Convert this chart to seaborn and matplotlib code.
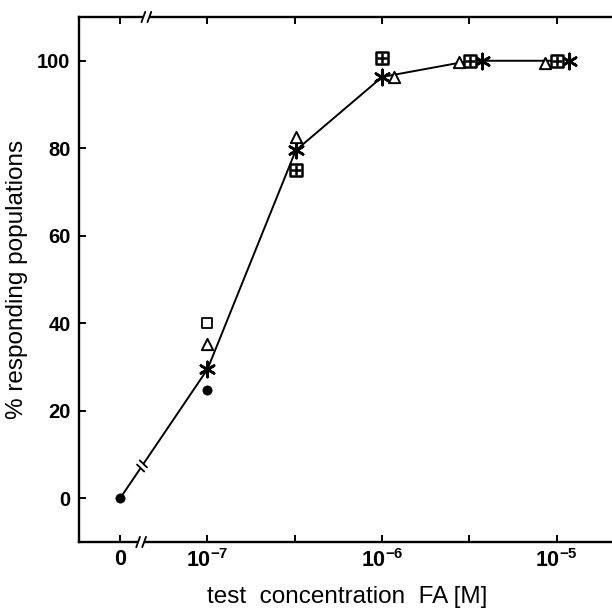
import numpy as np
import pandas as pd
import matplotlib
matplotlib.use("Agg")
import matplotlib.pyplot as plt
import seaborn as sns


# concentrations of FA [M]; 0 is the control
CONC = [0, 1e-7, 3.2e-7, 1e-6, 3.2e-6, 1e-5]

# % responding populations, read per symbol
MEAN_VALUES = [0, 29.5, 79.5, 96.3, 100, 100]          # asterisks, joined by the line
CIRCLE_CONC = [0, 1e-7]
CIRCLE_VALUES = [0, 24.7]
SQUARE_CONC = [1e-7]
SQUARE_VALUES = [40]
TRIANGLE_CONC = [1e-7, 3.2e-7, 1e-6, 3.2e-6, 1e-5]
TRIANGLE_VALUES = [35.2, 82.5, 96.3, 99.8, 99.6]
BOXED_CONC = [3.2e-7, 1e-6, 3.2e-6, 1e-5]
BOXED_VALUES = [75, 100.7, 100, 100]

X_TICK_CONC = [0, 1e-7, 10 ** -6.5, 1e-6, 10 ** -5.5, 1e-5]
X_TICK_LABELS = ["0", "$10^{-7}$", "", "$10^{-6}$", "", "$10^{-5}$"]
Y_TICKS = [0, 20, 40, 60, 80, 100]

ZERO_POS = -7.5


def to_pos(c):
    c = np.asarray(c, dtype=float)
    safe = np.where(c > 0, c, 1.0)
    return np.where(c > 0, np.log10(safe), ZERO_POS)


# small sideways nudges (decades) so touching symbols stay readable
NUDGE = 0.068
TRIANGLE_NUDGE = [0, 0, NUDGE, -NUDGE, -NUDGE]
ASTERISK_NUDGE = [0, 0, 0, 0, NUDGE, NUDGE]


def break_marks(ax, x, y, angle, spine_angle, length=11, gap=6, erase=True, in_axes_y=False):
    # draw a "//" break in display pixels around a point
    trans = ax.get_xaxis_transform() if in_axes_y else ax.transData
    px, py = trans.transform((x, y))
    inv = trans.inverted()
    d = np.array([np.cos(np.radians(spine_angle)), np.sin(np.radians(spine_angle))])
    s = np.array([np.cos(np.radians(angle)), np.sin(np.radians(angle))])
    p = np.array([px, py])
    if erase:
        a, b = inv.transform(p - d * gap * 0.55), inv.transform(p + d * gap * 0.55)
        ax.plot([a[0], b[0]], [a[1], b[1]], transform=trans, color="white",
                lw=4, clip_on=False, zorder=5, solid_capstyle="butt")
    for off in (-gap / 2, gap / 2):
        c = p + d * off
        a, b = inv.transform(c - s * length / 2), inv.transform(c + s * length / 2)
        ax.plot([a[0], b[0]], [a[1], b[1]], transform=trans, color="black",
                lw=1.3, clip_on=False, zorder=6)


def make_plot():
    sns.set_style("ticks")
    plt.rcParams["font.family"] = ["Liberation Sans", "DejaVu Sans"]
    plt.rcParams["mathtext.fontset"] = "custom"
    plt.rcParams["mathtext.rm"] = "Liberation Sans"
    plt.rcParams["mathtext.bf"] = "Liberation Sans:bold"
    plt.rcParams["mathtext.default"] = "bf"
    for key in ["text.color", "axes.labelcolor", "xtick.color", "ytick.color", "axes.edgecolor"]:
        plt.rcParams[key] = "black"

    fig = plt.figure(figsize=(6.12, 6.12), dpi=100)
    ax = fig.add_axes([0.129, 0.1144, 0.875, 0.8578])

    line = pd.DataFrame({"pos": to_pos(CONC), "value": MEAN_VALUES})
    sns.lineplot(data=line, x="pos", y="value", color="black", lw=1.4, ax=ax, zorder=2)

    stars = pd.DataFrame({"pos": to_pos(CONC) + np.array(ASTERISK_NUDGE), "value": MEAN_VALUES})
    stars = stars[stars["pos"] > ZERO_POS + 0.1]
    circles = pd.DataFrame({"pos": to_pos(CIRCLE_CONC), "value": CIRCLE_VALUES})
    squares = pd.DataFrame({"pos": to_pos(SQUARE_CONC), "value": SQUARE_VALUES})
    triangles = pd.DataFrame({"pos": to_pos(TRIANGLE_CONC) + np.array(TRIANGLE_NUDGE),
                              "value": TRIANGLE_VALUES})
    boxed = pd.DataFrame({"pos": to_pos(BOXED_CONC), "value": BOXED_VALUES})

    sns.scatterplot(data=stars, x="pos", y="value", marker=(6, 2, 0), s=120,
                    color="black", linewidth=1.9, ax=ax, zorder=4)
    sns.scatterplot(data=circles, x="pos", y="value", marker="o", s=44,
                    color="black", edgecolor="black", ax=ax, zorder=4)
    sns.scatterplot(data=squares, x="pos", y="value", marker="s", s=62,
                    facecolor="white", edgecolor="black", linewidth=1.3, ax=ax, zorder=4)
    sns.scatterplot(data=triangles, x="pos", y="value", marker="^", s=66,
                    facecolor="white", edgecolor="black", linewidth=1.4, ax=ax, zorder=4)
    sns.scatterplot(data=boxed, x="pos", y="value", marker="s", s=66,
                    facecolor="white", edgecolor="black", linewidth=1.8, ax=ax, zorder=4)
    sns.scatterplot(data=boxed, x="pos", y="value", marker="+", s=44,
                    color="black", linewidth=1.8, ax=ax, zorder=5)

    ax.set_xlim(-7.736, -4.67)
    ax.set_ylim(-10, 110)
    ax.set_xticks(to_pos(X_TICK_CONC))
    ax.set_xticklabels(X_TICK_LABELS)
    ax.set_yticks(Y_TICKS)

    for side in ["left", "bottom", "top"]:
        ax.spines[side].set_linewidth(1.7)
    ax.spines["right"].set_visible(False)

    ax.tick_params(axis="both", direction="in", length=5, width=1.4,
                   labelsize=14.5, pad=6)
    ax.tick_params(axis="x", top=True, labelsize=15.5, pad=5)
    for lab in ax.get_xticklabels() + ax.get_yticklabels():
        lab.set_fontweight("bold")

    ax.set_xlabel("test  concentration  FA [M]", fontsize=17.5, labelpad=10)
    ax.set_ylabel("% responding populations", fontsize=17.5, labelpad=7)

    # axis breaks between the control and 10^-7
    break_marks(ax, -7.38, 0, angle=70, spine_angle=0, in_axes_y=True)
    break_marks(ax, -7.35, 1, angle=70, spine_angle=0, in_axes_y=True)
    # break in the line itself
    xa, ya = ZERO_POS, MEAN_VALUES[0]
    xb, yb = np.log10(CONC[1]), MEAN_VALUES[1]
    t = 0.25
    pa = ax.transData.transform((xa, ya))
    pb = ax.transData.transform((xb, yb))
    ang = np.degrees(np.arctan2(pb[1] - pa[1], pb[0] - pa[0]))
    break_marks(ax, xa + t * (xb - xa), ya + t * (yb - ya), angle=ang + 80,
                spine_angle=ang, length=10, gap=5)

    fig.savefig("out.png", dpi=100, facecolor="white")
    plt.close(fig)


if __name__ == "__main__":
    make_plot()
